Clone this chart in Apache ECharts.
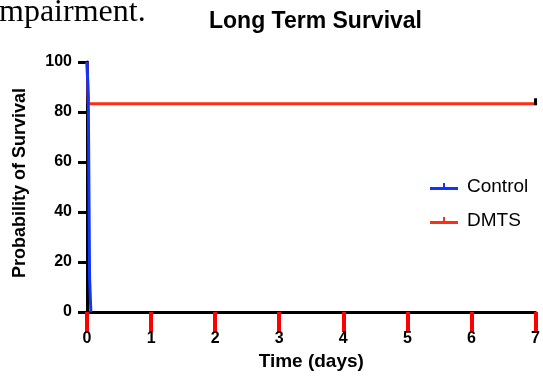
<!DOCTYPE html>
<html>
<head>
<meta charset="utf-8">
<script src="https://cdn.jsdelivr.net/npm/echarts@6/dist/echarts.min.js"></script>
<style>
  html, body { margin: 0; padding: 0; background: #fff; }
  #chart { width: 543px; height: 377px; }
</style>
</head>
<body>
<div id="chart"></div>
<script>
// Kaplan-Meier steps: [time (days), survival %]
const controlSteps = [[0, 100], [0.02, 86], [0.04, 14], [0.06, 0]];
const dmtsSteps = [[0, 100], [0.02, 83.3], [7, 83.3]];
const dmtsCensored = [7];
const xTicks = [0, 1, 2, 3, 4, 5, 6, 7];
const yTicks = [0, 20, 40, 60, 80, 100];

const font = 'Liberation Sans, Arial, sans-serif';
const blue = '#1034ff';
const red = '#ff2d12';
const legendIcon = 'path://M0,4H28V7H0Z M13,0H15V4H13Z';

const dmtsData = dmtsSteps.map(p => {
  if (dmtsCensored.includes(p[0])) {
    return { value: p, symbol: 'rect', symbolSize: [3, 7], symbolOffset: [0, -2], itemStyle: { color: '#000' } };
  }
  return p;
});

const axisFont = { fontFamily: font, fontWeight: 'bold', color: '#000' };

const chart = echarts.init(document.getElementById('chart'));
chart.setOption({
  animation: false,
  title: {
    text: 'Long Term Survival',
    left: 204, top: 5,
    textStyle: { fontFamily: font, fontWeight: 'bold', fontSize: 23, color: '#000' }
  },
  graphic: [{
    type: 'text', x: -1, y: 13,
    style: { text: 'mpairment.', font: '32px "Liberation Serif", "Times New Roman", serif', fill: '#000', verticalAlign: 'middle' }
  }],
  legend: {
    orient: 'vertical', left: 425, top: 172, itemGap: 15,
    itemWidth: 28, itemHeight: 7,
    data: [
      { name: 'Control', icon: legendIcon },
      { name: 'DMTS', icon: legendIcon }
    ],
    textStyle: { fontFamily: font, fontSize: 19, color: '#000', padding: [0, 0, 0, 4] }
  },
  grid: { left: 87, right: 5, top: 62, bottom: 65 },
  xAxis: {
    type: 'value', min: xTicks[0], max: xTicks[xTicks.length - 1], interval: 1,
    name: 'Time (days)', nameLocation: 'middle', nameGap: 40,
    nameTextStyle: Object.assign({ fontSize: 19 }, axisFont),
    axisLine: { show: true, lineStyle: { color: '#000', width: 3 } },
    axisTick: { show: true, length: 20, lineStyle: { color: '#f00', width: 4 } },
    axisLabel: Object.assign({ fontSize: 16, margin: 19 }, axisFont),
    splitLine: { show: false }
  },
  yAxis: {
    type: 'value', min: yTicks[0], max: yTicks[yTicks.length - 1], interval: 20,
    name: 'Probability of Survival', nameLocation: 'middle', nameGap: 58,
    nameTextStyle: Object.assign({ fontSize: 18, padding: [0, 0, 0, 8] }, axisFont),
    axisLine: { show: true, lineStyle: { color: '#000', width: 3 } },
    axisTick: { show: true, length: 9, lineStyle: { color: '#000', width: 3 } },
    axisLabel: Object.assign({ fontSize: 16, margin: 15 }, axisFont),
    splitLine: { show: false }
  },
  series: [
    {
      name: 'DMTS', type: 'line', step: 'end', data: dmtsData,
      symbol: 'none', showSymbol: true, color: red,
      lineStyle: { color: red, width: 3 }
    },
    {
      name: 'Control', type: 'line', step: 'end', data: controlSteps,
      symbol: 'none', color: blue,
      lineStyle: { color: blue, width: 3 }
    }
  ]
});
</script>
</body>
</html>
